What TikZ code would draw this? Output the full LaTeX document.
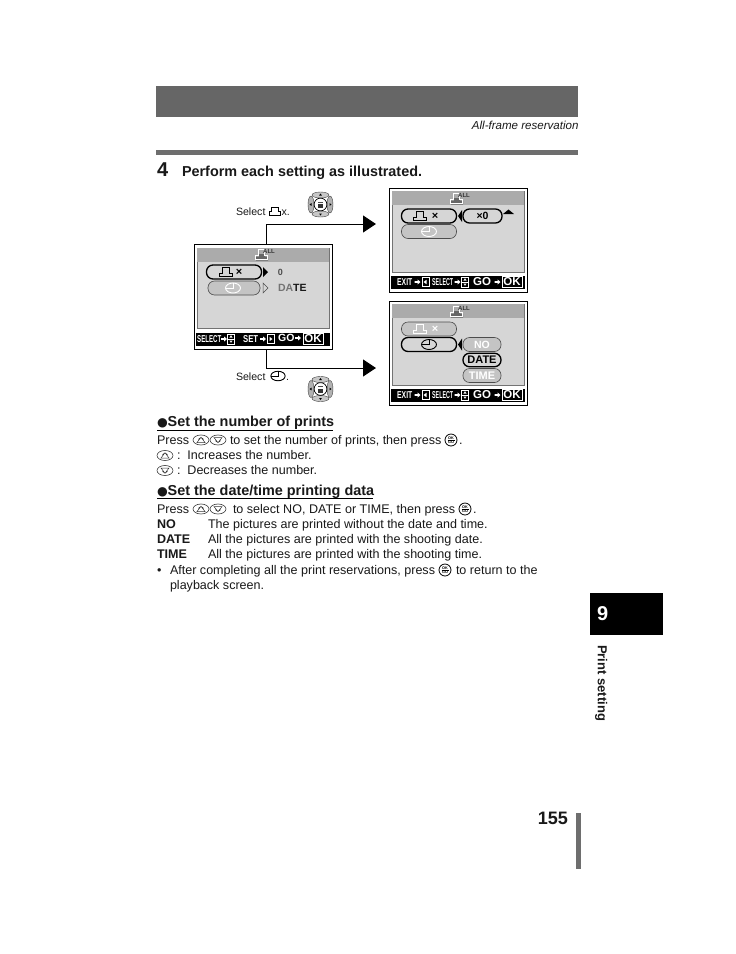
\documentclass[tikz,border=0pt]{standalone}
\usepackage{fontspec}
\usepackage{graphicx}
\setmainfont{Liberation Sans}
\newfontfamily\dvfont{DejaVu Sans}
\usetikzlibrary{arrows.meta,shapes.geometric}
\definecolor{bandgray}{HTML}{666666}
\definecolor{rulegray}{HTML}{6E6E6E}
\definecolor{scrgray}{HTML}{D6D6D6}
\definecolor{headgray}{HTML}{ABABAB}
\definecolor{pillgray}{HTML}{C4C4C4}
\newcommand{\PX}[1]{\fontsize{#1}{#1}\selectfont}
\newcommand{\Cond}[2]{\scalebox{#1}[1]{#2}}
\newcommand{\Blt}{{\dvfont\PX{12.3}●}}
\tikzset{
  txt/.style={inner sep=0pt,outer sep=0pt,anchor=west,text height=10pt,text depth=3pt,font=\PX{12.55},text=black!90},
  boldtxt/.style={txt,font=\PX{12.55}\bfseries},
  subhead/.style={txt,font=\PX{14.4}\bfseries},
  small/.style={txt,font=\PX{10.6}},
  bartxt/.style={inner sep=0pt,anchor=west,text=white,font=\PX{10}\bfseries},
  screen/.style={draw=black,line width=1pt,fill=white,minimum width=138pt,minimum height=104pt,inner sep=0pt,rectangle},
  pillon/.style={draw=black,line width=1.3pt,rounded corners=6.5pt,inner sep=0pt,minimum height=14pt,fill=scrgray,font=\PX{10.5}\bfseries},
  pilloff/.style={draw=black!70,line width=.6pt,rounded corners=6.5pt,inner sep=0pt,minimum height=14pt,fill=pillgray,font=\PX{10.5}\bfseries,text=white},
  conn/.style={draw=black,line width=1pt,-{Triangle[length=13pt,width=17pt]}},
  printicon/.pic={\draw[line width=.9pt,line join=miter] (-6.5,4.5)--(6.5,4.5)--(6.5,1)--(3.8,1)--(3.8,-4.5)--(-3.8,-4.5)--(-3.8,1)--(-6.5,1)--cycle;},
  clockicon/.pic={\draw[line width=.9pt] (0,0) ellipse (7.5 and 5);\draw[line width=.8pt] (-7.5,0)--(0,0)--(0,-5);},
  allicon/.pic={
    \fill[black!60] (-5,5.5)--(7,5.5)--(7,1.5)--(4,1.5)--(4,-1)--(-2,-1)--(-2,-4.5)--(-2,1.5)--(-5,1.5)--cycle;
    \draw[white,line width=1pt] (-6,4.5)--(6,4.5)--(6,.5)--(3,.5)--(3,-5.5)--(-3,-5.5)--(-3,.5)--(-6,.5)--cycle;
    \node[inner sep=0pt,text=black!80,font=\PX{6}\bfseries] (-all) at (8,-3.5) {ALL};},
  pad/.pic={
    \filldraw[fill=black!22,draw=black!75,line width=.4pt] (0,-9.5) ellipse (8.5 and 3);
    \filldraw[fill=black!22,draw=black!75,line width=.4pt] (0,9.5) ellipse (8.5 and 3);
    \filldraw[fill=black!30,draw=black!75,line width=.4pt] (-9.5,0) ellipse (3 and 8.5);
    \filldraw[fill=black!30,draw=black!75,line width=.4pt] (9.5,0) ellipse (3 and 8.5);
    \filldraw[fill=white,draw=black,line width=.7pt] (0,0) circle (6.4);
    \fill[black!80] (-2.6,-.5) rectangle (2.6,3.5);
    \draw[black!70,line width=.5pt] (-2.6,-2.5)--(2.6,-2.5);
    \fill[black] (0,-11) -- (1.4,-9) -- (-1.4,-9) -- cycle (0,11) -- (1.4,9) -- (-1.4,9) -- cycle (-11,0) -- (-9,1.4) -- (-9,-1.4) -- cycle (11,0) -- (9,1.4) -- (9,-1.4) -- cycle;},
  upbtn/.pic={\draw[black!80,line width=.6pt] (0,0) ellipse (8 and 5);
    \draw[black!80,line width=.5pt] (-4,2.5)--(0,-2.8)--(4,2.5)--cycle (-2.5,-.5) arc (180:360:2.5 and 1.6);},
  downbtn/.pic={\draw[black!80,line width=.6pt] (0,0) ellipse (8 and 5);
    \draw[black!80,line width=.5pt] (-4,-2.5)--(0,2.8)--(4,-2.5)--cycle (-2.5,.5) arc (180:0:2.5 and 1.6);},
  okbtn/.pic={\draw[black,line width=.8pt] (0,0) circle (6);
    \node[inner sep=0pt,font=\PX{3.8}\bfseries] (-ok) at (0,-1.9) {OK};
    \draw[line width=.5pt] (-3.5,0)--(3.5,0);
    \node[inner sep=0pt,font=\PX{3.8}\bfseries] (-go) at (0,2) {GO};},
  tinyarrow/.pic={\fill[white] (-3,-.8)--(0,-.8)--(0,-2.6)--(3,0)--(0,2.6)--(0,.8)--(-3,.8)--cycle;},
  udbox/.pic={\draw[white,line width=.6pt] (-3.5,-5)rectangle(3.5,5) (-3.5,0)--(3.5,0);
    \fill[white] (0,-3.8)--(1.6,-1.5)--(-1.6,-1.5)--cycle (0,3.8)--(1.6,1.5)--(-1.6,1.5)--cycle;},
  lrbox/.pic={\draw[white,line width=.6pt] (-3.5,-4.5)rectangle(3.5,4.5);},
  barright/.pic={
    \fill[black] (-67,-6.5) rectangle (67,6.5);
    \node[bartxt] (-exit) at (-61,0) {\Cond{.68}{EXIT}};
    \pic at (-40.5,0) {tinyarrow};
    \pic (-lb) at (-32.5,0) {lrbox};
    \fill[white] (-34.5,0)--(-31.5,-2.2)--(-31.5,2.2)--cycle;
    \node[bartxt] (-sel) at (-26,0) {\Cond{.53}{SELECT}};
    \pic at (-.5,0) {tinyarrow};
    \pic (-ud) at (7,0) {udbox};
    \node[bartxt,font=\PX{11.5}\bfseries] (-go) at (15,0) {GO};
    \pic at (39.5,0) {tinyarrow};
    \node[draw=white,line width=.8pt,fill=black,minimum width=20pt,minimum height=11pt,inner sep=0pt,text=white,font=\PX{11.5}\bfseries] (-ok) at (54,0) {OK};},
  barleft/.pic={
    \fill[black] (-67,-6.5) rectangle (67,6.5);
    \node[bartxt] (-sel) at (-66,0) {\Cond{.61}{SELECT}};
    \pic at (-39,0) {tinyarrow};
    \pic (-ud) at (-32,0) {udbox};
    \node[bartxt] (-set) at (-20,0) {\Cond{.77}{SET}};
    \pic at (0,0) {tinyarrow};
    \pic (-lb) at (7.5,0) {lrbox};
    \fill[white] (9.5,0)--(6.5,-2.2)--(6.5,2.2)--cycle;
    \node[bartxt,font=\PX{10.5}\bfseries] (-go) at (15,-1) {GO};
    \pic at (35,-1) {tinyarrow};
    \node[draw=white,line width=.8pt,fill=black,minimum width=20pt,minimum height=11pt,inner sep=0pt,text=white,font=\PX{11.5}\bfseries] (-ok) at (50,0) {OK};},
}
\begin{document}
\begin{tikzpicture}[x=1pt,y=-1pt]
\useasboundingbox (0,0) rectangle (736,954);
\fill[white] (0,0) rectangle (736,954);
% page furniture
\fill[bandgray] (156,86) rectangle (578,117);
\fill[rulegray] (156,150) rectangle (578,155);
\node[txt,anchor=east,font=\PX{11.55}\itshape] (crumb) at (578.5,125.8) {All-frame reservation};
\node[txt,font=\PX{20}\bfseries] (stepno) at (157,173) {4};
\node[txt,font=\PX{14.4}\bfseries] (perform) at (182,173) {Perform each setting as illustrated.};
% connectors
\node[screen,minimum height=105pt] (scrL) at (263,296.5) {};
\coordinate (tipA) at (376,224);
\coordinate (tipB) at (376,368);
\draw[conn] (scrL.north -| 266,0) -- (266,224) -- (tipA);
\draw[conn] (scrL.south -| 266,0) -- (266,368) -- (tipB);
% left screen
\fill[scrgray] (197,248) rectangle (329,328);
\draw[black!55,line width=.5pt] (197,248) rectangle (329,328);
\fill[headgray] (197,248) rectangle (329,262);
\pic (iconL) at (261,255) {allicon};
\node[pillon,minimum width=55pt] (pL1) at (234,272) {};
\pic at (226,272) {printicon};
\node[inner sep=0pt,font=\PX{11}\bfseries] (xL1) at (239,272.5) {×};
\node[pilloff,minimum width=52pt] (pL2) at (234,288) {};
\pic[color=white] at (233,288) {clockicon};
\fill[black] (263,267)--(268,272)--(263,277)--cycle;
\draw[black!70,line width=.5pt] (263,283)--(268,288)--(263,293)--cycle;
\node[inner sep=0pt,font=\PX{9}\bfseries,text=black!70] (zeroL) at (280.5,272) {0};
\node[txt,font=\PX{10.5}\bfseries] (dateL) at (278,288) {\textcolor{black!55}{DA}TE};
\pic (barL) at (263,339) {barleft};
% top right screen
\node[screen] (scrA) at (458,240) {};
\fill[scrgray] (392,191) rectangle (524,272);
\draw[black!55,line width=.5pt] (392,191) rectangle (524,272);
\fill[headgray] (392,191) rectangle (524,205);
\pic (iconA) at (456,199) {allicon};
\node[pillon,minimum width=55pt] (pA1) at (429,216) {};
\pic at (420,216) {printicon};
\node[inner sep=0pt,font=\PX{11}\bfseries] (xA1) at (435,216.5) {×};
\node[pilloff,minimum width=55pt] (pA2) at (429,231.5) {};
\pic[color=white] at (429,231.5) {clockicon};
\fill[black] (462,210)--(458,216)--(462,222)--cycle;
\node[pillon,minimum width=39pt] (pA3) at (482.5,216) {×0};
\fill[black] (503,214)--(508.5,209.5)--(514,214)--cycle;
\pic (barA) at (458,282) {barright};
% bottom right screen
\node[screen] (scrB) at (458,353) {};
\fill[scrgray] (392,304) rectangle (524,385);
\draw[black!55,line width=.5pt] (392,304) rectangle (524,385);
\fill[headgray] (392,304) rectangle (524,318);
\pic (iconB) at (456,312) {allicon};
\node[pilloff,minimum width=55pt] (pB1) at (429,329) {};
\pic[color=white] at (420,329) {printicon};
\node[inner sep=0pt,font=\PX{11}\bfseries,text=white] (xB1) at (435,329.5) {×};
\node[pillon,minimum width=55pt] (pB2) at (429,344.5) {};
\pic at (429,344.5) {clockicon};
\fill[black] (462,338.5)--(458,344.5)--(462,350.5)--cycle;
\node[pilloff,minimum width=38pt] (pB3) at (482,344.5) {NO};
\node[pillon,minimum width=38pt,minimum height=13.5pt,font=\PX{11}\bfseries] (pB4) at (482,360) {DATE};
\node[pilloff,minimum width=38pt,font=\PX{11}\bfseries] (pB5) at (482,375.5) {TIME};
\pic (barB) at (458,395) {barright};
% select labels
\node[small] (sel1) at (236,211.5) {Select};
\pic[scale=.9] at (275,211) {printicon};
\node[small] (sel1x) at (281.5,211.5) {x.};
\pic (pad1) at (320.5,204.5) {pad};
\node[small] (sel2) at (236,376.5) {Select};
\pic[scale=.95] at (278,376) {clockicon};
\node[small] (sel2d) at (286,376.5) {.};
\pic (pad2) at (320.5,389) {pad};
% first section
\node[subhead] (h1) at (157,422.5) {\Blt Set the number of prints};
\draw[black,line width=.9pt] (h1.west |- 0,430) -- (333,430);
\node[txt] (l1a) at (157,441) {Press};
\pic at (201,440) {upbtn};
\pic at (218,440) {downbtn};
\node[txt] (l1b) at (230,441) {to set the number of prints, then press};
\pic at (451,440) {okbtn};
\node[txt] (l1c) at (459,441) {.};
\pic at (165,455.5) {upbtn};
\node[txt] (l2) at (177,456) {:\ \ Increases the number.};
\pic at (165,470.5) {downbtn};
\node[txt] (l3) at (177,471) {:\ \ Decreases the number.};
% second section
\node[subhead] (h2) at (157,491.5) {\Blt Set the date/time printing data};
\draw[black,line width=.9pt] (h2.west |- 0,498.5) -- (373,498.5);
\node[txt] (m1a) at (157,510) {Press};
\pic at (201,509) {upbtn};
\pic at (218,509) {downbtn};
\node[txt] (m1b) at (233,510) {to select NO, DATE or TIME, then press};
\pic at (465,509) {okbtn};
\node[txt] (m1c) at (473,510) {.};
\node[boldtxt] (no) at (157,525) {NO};
\node[txt] (nod) at (208,525) {The pictures are printed without the date and time.};
\node[boldtxt] (date) at (157,540) {DATE};
\node[txt] (dated) at (208,540) {All the pictures are printed with the shooting date.};
\node[boldtxt] (time) at (157,555) {TIME};
\node[txt] (timed) at (208,555) {All the pictures are printed with the shooting time.};
\node[txt] (bul) at (157,570.5) {•};
\node[txt] (n1) at (170,570.5) {After completing all the print reservations, press};
\pic at (445,570) {okbtn};
\node[txt] (n1b) at (456,570.5) {to return to the};
\node[txt] (n2) at (170,586) {playback screen.};
% side tab
\fill[black] (590,593) rectangle (663,635);
\node[txt,text=white,font=\PX{20}\bfseries] (tabno) at (597,617.2) {9};
\node[inner sep=0pt,rotate=-90,anchor=north west,font=\PX{13}\bfseries,text=black!90] (tablab) at (607.5,645) {Print setting};
% page number
\node[txt,anchor=east,font=\PX{18}\bfseries] (pageno) at (568,820.8) {155};
\fill[rulegray] (576,813) rectangle (581,869);
\end{tikzpicture}
\end{document}
